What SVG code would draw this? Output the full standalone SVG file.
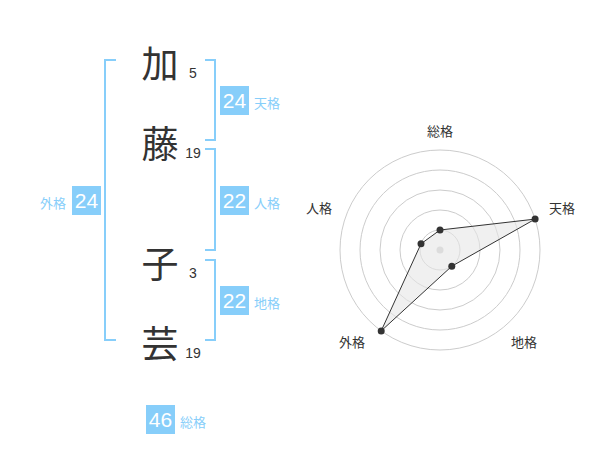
<svg xmlns="http://www.w3.org/2000/svg" width="600" height="470" viewBox="0 0 600 470">
<style>
.k{font-family:"Liberation Sans","Noto Sans CJK JP",sans-serif;font-size:37px;fill:#333;text-anchor:middle}
.n{font-family:"Liberation Sans",sans-serif;font-size:14px;fill:#333;text-anchor:middle}
.br{fill:none;stroke:#87CEFA;stroke-width:2}
.box{fill:#87CEFA}
.bv{font-family:"Liberation Sans",sans-serif;font-size:21px;fill:#fff;text-anchor:middle}
.bl{font-family:"Liberation Sans","Noto Sans CJK JP",sans-serif;font-size:13px;fill:#87CEFA}
.rl{font-family:"Liberation Sans","Noto Sans CJK JP",sans-serif;font-size:13px;fill:#333;text-anchor:middle}
.ring{fill:none;stroke:#ccc;stroke-width:1}
.pt{fill:#333}
</style>
<rect width="600" height="470" fill="#fff"/>
<g id="name">
<g id="c1"><text class="k" x="160" y="78">加</text><text class="n" x="193" y="78">5</text></g>
<g id="c2"><text class="k" x="160" y="158">藤</text><text class="n" x="193" y="158">19</text></g>
<g id="c3"><text class="k" x="160" y="278">子</text><text class="n" x="193" y="278">3</text></g>
<g id="c4"><text class="k" x="160" y="358">芸</text><text class="n" x="193" y="358">19</text></g>
</g>
<g id="brackets">
<path class="br" d="M116,60 H105 V340 H116"/>
<path class="br" d="M205,60 H215 V140 H205"/>
<path class="br" d="M205,149 H215 V250 H205"/>
<path class="br" d="M205,260 H215 V340 H205"/>
</g>
<g id="tenkaku"><rect class="box" x="220" y="86" width="29" height="29"/><text class="bv" x="234.5" y="108">24</text><text class="bl" x="254" y="108">天格</text></g>
<g id="jinkaku"><rect class="box" x="220" y="186" width="29" height="29"/><text class="bv" x="234.5" y="208">22</text><text class="bl" x="254" y="208">人格</text></g>
<g id="chikaku"><rect class="box" x="220" y="286" width="29" height="29"/><text class="bv" x="234.5" y="308">22</text><text class="bl" x="254" y="308">地格</text></g>
<g id="gaikaku"><rect class="box" x="72" y="186" width="29" height="29"/><text class="bv" x="86.5" y="208">24</text><text class="bl" x="40" y="208">外格</text></g>
<g id="soukaku"><rect class="box" x="146" y="405" width="29" height="29"/><text class="bv" x="160.5" y="427">46</text><text class="bl" x="180" y="427">総格</text></g>
<g id="radar">
<circle class="ring" cx="440" cy="250" r="20"/>
<circle class="ring" cx="440" cy="250" r="40"/>
<circle class="ring" cx="440" cy="250" r="60"/>
<circle class="ring" cx="440" cy="250" r="80"/>
<circle class="ring" cx="440" cy="250" r="100"/>
<circle cx="440" cy="250" r="3.5" fill="#ccc"/>
<polygon points="440,230 535.1,219.1 451.8,266.2 381.2,330.9 421,243.8" fill="#e6e6e6" fill-opacity="0.6" stroke="#333" stroke-width="1"/>
<circle class="pt" cx="440" cy="230" r="3.5"/>
<circle class="pt" cx="535.1" cy="219.1" r="3.5"/>
<circle class="pt" cx="451.8" cy="266.2" r="3.5"/>
<circle class="pt" cx="381.2" cy="330.9" r="3.5"/>
<circle class="pt" cx="421" cy="243.8" r="3.5"/>
<text class="rl" x="440" y="136">総格</text>
<text class="rl" x="562" y="213">天格</text>
<text class="rl" x="524" y="347">地格</text>
<text class="rl" x="352" y="347">外格</text>
<text class="rl" x="319" y="213">人格</text>
</g>
</svg>
